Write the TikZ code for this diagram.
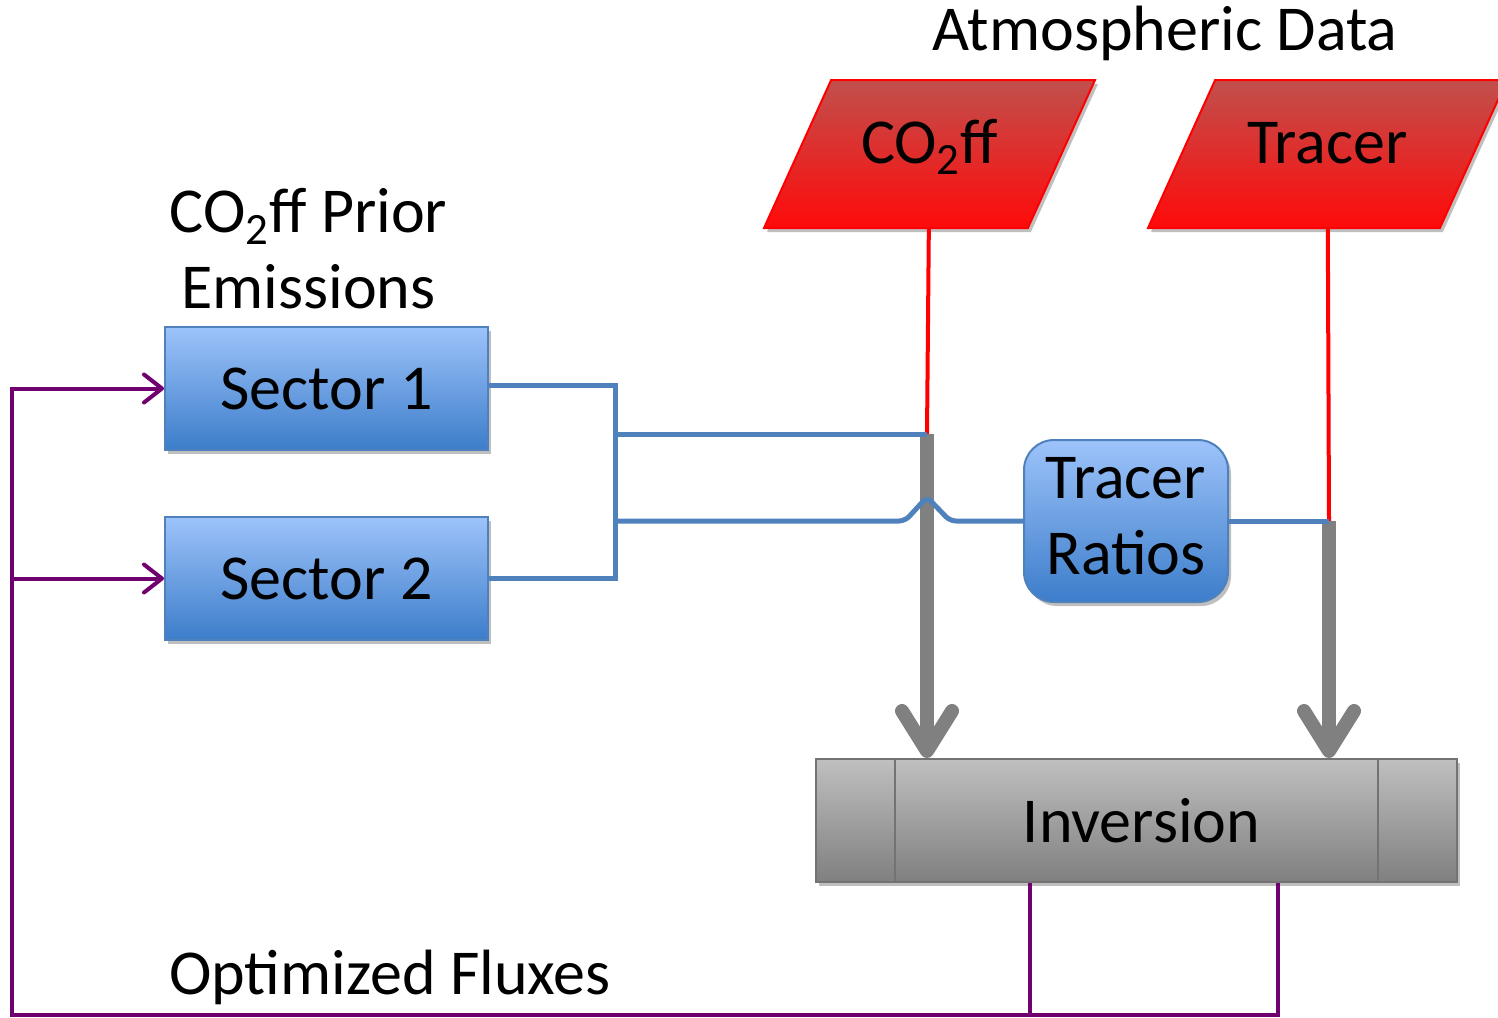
\documentclass[tikz,border=0pt]{standalone}
\usepackage{fontspec}
\setmainfont{Carlito}
\usetikzlibrary{arrows.meta,positioning,shapes.geometric,shadows}
\definecolor{wireblue}{RGB}{79,129,189}
\definecolor{boxtop}{RGB}{157,195,250}
\definecolor{boxbot}{RGB}{60,125,202}
\definecolor{datatop}{RGB}{192,80,77}
\definecolor{databot}{RGB}{255,10,10}
\definecolor{flowgray}{RGB}{128,128,128}
\definecolor{fluxpurple}{RGB}{112,0,112}
\tikzset{node distance=32.5pt,
	every node/.style={font=\fontsize{32}{38}\selectfont},
	softshadow/.style={drop shadow={shadow xshift=1.5pt,shadow yshift=-2pt,opacity=0.25,fill=black}},
	sector/.style={
		draw=wireblue, line width=1pt,
		top color=boxtop, bottom color=boxbot,
		minimum width=161.5pt, minimum height=61.5pt,
		softshadow
	},
	ratiobox/.style={
		sector, rounded corners=15pt,
		minimum width=102pt, minimum height=81pt,
		inner sep=0pt
	},
	datain/.style={
		trapezium, trapezium stretches body=true,
		trapezium left angle=65.6, trapezium right angle=114.4,
		draw=red, line width=1pt,
		top color=datatop, bottom color=databot,
		text height=19.5pt, text depth=10.5pt,
		inner xsep=0pt, inner ysep=22pt,
		softshadow
	},
	procbox/.style={
		draw=flowgray!90!black, line width=1pt,
		top color=black!25, bottom color=black!50,
		minimum width=320.5pt, minimum height=61.5pt,
		softshadow
	},
	bluewire/.style={draw=wireblue, line width=2.5pt},
	redwire/.style={draw=red, line width=2pt},
	grayflow/.style={draw=flowgray, line width=7pt,
		-{Straight Barb[round,length=20pt,width=25pt]}},
	fluxwire/.style={draw=fluxpurple, line width=2pt,
		>={Straight Barb[round,length=9pt,width=14pt]}}
}

\begin{document}
\begin{tikzpicture}[x=0.5pt,y=-0.5pt]
	\useasboundingbox (0,0) rectangle (1498,1017);
	\node (atm) at (1165,33) {Atmospheric Data};
	\node[datain, minimum width=165.5pt] (co2) at (929.5,154) {CO\textsubscript{2}ff};
	\node[datain, minimum width=179.5pt] (tr) at (1327.5,154) {Tracer};
	\node[sector] (s1) at (326.5,388.5) {Sector 1};
	\node[sector, below=of s1] (s2) {Sector 2};
	\node[align=center, above=5pt of s1, xshift=-9pt] (prior) {CO\textsubscript{2}ff Prior\\Emissions};
	\node[ratiobox] (ratio) at (1126,521) {\raisebox{-6.5pt}[0pt][0pt]{\begin{tabular}{@{}c@{}}Tracer\\Ratios\end{tabular}}};
	\node[procbox] (inv) at (1136.5,820.5) {\hspace*{5pt}Inversion};
	\draw[flowgray!90!black, line width=1pt] ([xshift=40pt]inv.north west) -- ([xshift=40pt]inv.south west)
		([xshift=-40pt]inv.north east) -- ([xshift=-40pt]inv.south east);
	\node (opt) at (390,977) {Optimized Fluxes};

	\coordinate (bus) at (615,0);
	\coordinate (k1) at (927,434);
	\coordinate (k2) at (1329,521);
	\coordinate (o1) at (1030,1015);
	\coordinate (o2) at (1278,1015);
	\coordinate (fb) at (12,1015);

	\draw[redwire] (co2) -- (k1);
	\draw[redwire] (tr) -- (k2);
	\draw[grayflow] (k1) -- (k1 |- inv.north);
	\draw[grayflow] (k2) -- (k2 |- inv.north);
	\draw[bluewire] ([yshift=1.5pt]s1.east) -| (bus |- s2.east) -- (s2.east);
	\draw[bluewire] (bus |- k1) -- (k1);
	\draw[bluewire, rounded corners=3pt] (bus |- ratio.west) -- ([xshift=-11pt]k1 |- ratio.west)
		-- ([yshift=12pt]k1 |- ratio.west) -- ([xshift=11.5pt]k1 |- ratio.west) -- (ratio.west);
	\draw[bluewire] (ratio.east) -- (k2);
	\draw[fluxwire] (inv.south -| o1) -- (o1);
	\draw[fluxwire,->] (inv.south -| o2) -- (o2) -- (fb) |- (s1.west);
	\draw[fluxwire,->] (fb |- s2.west) -- (s2.west);
\end{tikzpicture}
\end{document}
